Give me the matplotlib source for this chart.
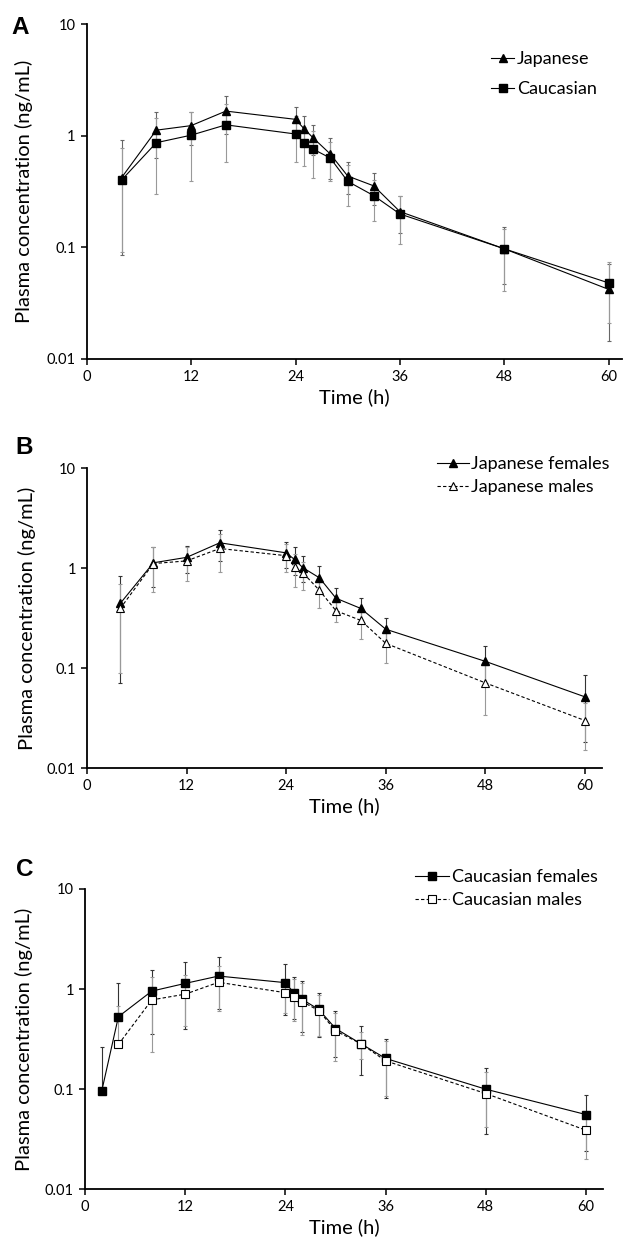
import numpy as np
import matplotlib
matplotlib.use("Agg")
import matplotlib.pyplot as plt

plt.rcParams["font.family"] = ["Lato", "DejaVu Sans"]

# --- time points (h) ---
t = [4, 8, 12, 16, 24, 25, 26, 28, 30, 33, 36, 48, 60]
t_c = [2, 4, 8, 12, 16, 24, 25, 26, 28, 30, 33, 36, 48, 60]
t_cm = [4, 8, 12, 16, 24, 25, 26, 28, 30, 33, 36, 48, 60]

# --- panel A: Japanese vs Caucasian ---
jp = [0.42, 1.12, 1.23, 1.66, 1.40, 1.15, 0.96, 0.685, 0.435, 0.355, 0.209, 0.097, 0.042]
jp_hi = [0.915, 1.62, 1.64, 2.28, 1.80, 1.50, 1.25, 0.96, 0.585, 0.467, 0.29, 0.151, 0.0705]
jp_lo = [0.085, 0.63, 0.82, 1.04, 1.00, 0.80, 0.67, 0.41, 0.30, 0.24, 0.135, 0.047, 0.0145]
ca = [0.40, 0.865, 1.01, 1.25, 1.035, 0.865, 0.76, 0.63, 0.39, 0.29, 0.199, 0.097, 0.048]
ca_hi = [0.775, 1.43, 1.63, 1.92, 1.485, 1.19, 1.10, 0.87, 0.55, 0.40, 0.29, 0.145, 0.0745]
ca_lo = [0.09, 0.30, 0.39, 0.585, 0.585, 0.54, 0.42, 0.39, 0.235, 0.172, 0.108, 0.041, 0.021]

# --- panel B: Japanese females vs males ---
jf = [0.443, 1.13, 1.28, 1.79, 1.42, 1.22, 1.01, 0.80, 0.50, 0.395, 0.245, 0.117, 0.0517]
jf_hi = [0.83, 1.63, 1.67, 2.40, 1.83, 1.61, 1.32, 1.05, 0.64, 0.50, 0.32, 0.167, 0.085]
jf_lo = [0.071, 0.65, 0.885, 1.18, 1.00, 0.85, 0.73, 0.56, 0.37, 0.30, 0.17, 0.067, 0.0185]
jm = [0.395, 1.11, 1.18, 1.57, 1.33, 1.03, 0.90, 0.60, 0.375, 0.30, 0.177, 0.0713, 0.030]
jm_hi = [0.70, 1.62, 1.62, 2.19, 1.75, 1.38, 1.15, 0.80, 0.46, 0.40, 0.245, 0.108, 0.045]
jm_lo = [0.089, 0.58, 0.74, 0.92, 0.91, 0.65, 0.60, 0.395, 0.29, 0.198, 0.113, 0.034, 0.0152]

# --- panel C: Caucasian females vs males ---
cf = [0.0955, 0.53, 0.955, 1.14, 1.35, 1.16, 0.92, 0.79, 0.626, 0.404, 0.286, 0.203, 0.10, 0.0558]
cf_hi = [0.261, 1.14, 1.55, 1.88, 2.07, 1.77, 1.33, 1.21, 0.92, 0.60, 0.43, 0.32, 0.164, 0.087]
cf_lo = [0.0955, 0.53, 0.36, 0.40, 0.63, 0.55, 0.50, 0.37, 0.33, 0.21, 0.14, 0.081, 0.036, 0.024]
cm = [0.28, 0.78, 0.89, 1.17, 0.92, 0.84, 0.75, 0.61, 0.383, 0.286, 0.192, 0.0905, 0.0389]
cm_hi = [0.675, 1.32, 1.38, 1.70, 1.25, 1.25, 1.15, 0.88, 0.58, 0.37, 0.30, 0.15, 0.058]
cm_lo = [0.28, 0.233, 0.43, 0.60, 0.58, 0.48, 0.35, 0.34, 0.19, 0.20, 0.085, 0.042, 0.0203]

xticks = [0, 12, 24, 36, 48, 60]
yticks = [0.01, 0.1, 1, 10]
ytick_labels = ["0.01", "0.1", "1", "10"]

W, H = 626, 1248
fig = plt.figure(figsize=(W / 100, H / 100), dpi=100)


def add_ax(left, right, top, bottom):
    return fig.add_axes([left / W, 1 - bottom / H, (right - left) / W, (bottom - top) / H])


def err(mean, lo, hi):
    m = np.array(mean)
    return [m - np.array(lo), np.array(hi) - m]


def style(ax, xmax, letter, lx, ly):
    ax.set_yscale("log")
    ax.set_ylim(0.01, 10)
    ax.set_xlim(0, xmax)
    ax.set_xticks(xticks)
    ax.set_yticks(yticks)
    ax.set_yticklabels(ytick_labels)
    ax.yaxis.set_minor_locator(matplotlib.ticker.NullLocator())
    for s in ["top", "right"]:
        ax.spines[s].set_visible(False)
    for s in ["left", "bottom"]:
        ax.spines[s].set_linewidth(1.3)
    ax.tick_params(axis="both", direction="out", length=4, width=1.1, labelsize=10.5, pad=4)
    ax.set_xlabel("Time (h)", fontsize=14.5, labelpad=3)
    ax.set_ylabel("Plasma concentration (ng/mL)", fontsize=14.5)
    ax.yaxis.set_label_coords(-0.1, 0.5)
    fig.text(lx / W, 1 - ly / H, letter, fontsize=17.5, fontweight="bold",
             family="Liberation Sans", ha="left", va="baseline")


ebk = dict(fmt="none", capsize=1.6, elinewidth=0.8, capthick=0.8)

# Panel A
axA = add_ax(86.7, 86.7 + 61.5 * 8.7, 24, 359)
axA.errorbar(t, jp, yerr=err(jp, jp_lo, jp_hi), ecolor="#666666", **ebk)
axA.errorbar(t, ca, yerr=err(ca, ca_lo, ca_hi), ecolor="#999999", **ebk)
axA.plot(t, jp, "-^", color="black", lw=0.8, ms=6, label="Japanese")
axA.plot(t, ca, "-s", color="black", lw=0.8, ms=5.5, label="Caucasian")
style(axA, 61.5, "A", 11, 33.5)
axA.legend(loc="upper left", bbox_to_anchor=(491 / W, 1 - 51 / H), bbox_transform=fig.transFigure,
           frameon=False, fontsize=13, borderpad=0, borderaxespad=0, handlelength=1.3,
           handletextpad=0.15, labelspacing=0.8, markerscale=1.0)

# Panel B
axB = add_ax(87, 87 + 62 * 8.3, 468, 768.3)
axB.errorbar(t, jf, yerr=err(jf, jf_lo, jf_hi), ecolor="#333333", **ebk)
axB.errorbar(t, jm, yerr=err(jm, jm_lo, jm_hi), ecolor="#999999", **ebk)
axB.plot(t, jf, "-^", color="black", lw=0.8, ms=6, label="Japanese females")
axB.plot(t, jm, "--^", color="black", lw=0.8, ms=6, mfc="white", mew=0.8,
         dashes=(3, 2), label="Japanese males")
style(axB, 62, "B", 15, 453.5)
axB.legend(loc="upper left", bbox_to_anchor=(437 / W, 1 - 456 / H), bbox_transform=fig.transFigure,
           frameon=False, fontsize=13, borderpad=0, borderaxespad=0, handlelength=1.75,
           handletextpad=0.15, labelspacing=0.4)

# Panel C
axC = add_ax(85, 85 + 62 * 8.35, 889, 1189.3)
axC.errorbar(t_c, cf, yerr=err(cf, cf_lo, cf_hi), ecolor="#333333", **ebk)
axC.errorbar(t_cm, cm, yerr=err(cm, cm_lo, cm_hi), ecolor="#999999", **ebk)
axC.plot(t_c, cf, "-s", color="black", lw=0.8, ms=5.5, label="Caucasian females")
axC.plot(t_cm, cm, "--s", color="black", lw=0.8, ms=5.5, mfc="white", mew=0.8,
         dashes=(3, 2), label="Caucasian males")
style(axC, 62, "C", 16, 875.5)
axC.legend(loc="upper left", bbox_to_anchor=(415 / W, 1 - 869 / H), bbox_transform=fig.transFigure,
           frameon=False, fontsize=13, borderpad=0, borderaxespad=0, handlelength=1.9,
           handletextpad=0.15, labelspacing=0.4)

fig.savefig("out.png", dpi=100)
